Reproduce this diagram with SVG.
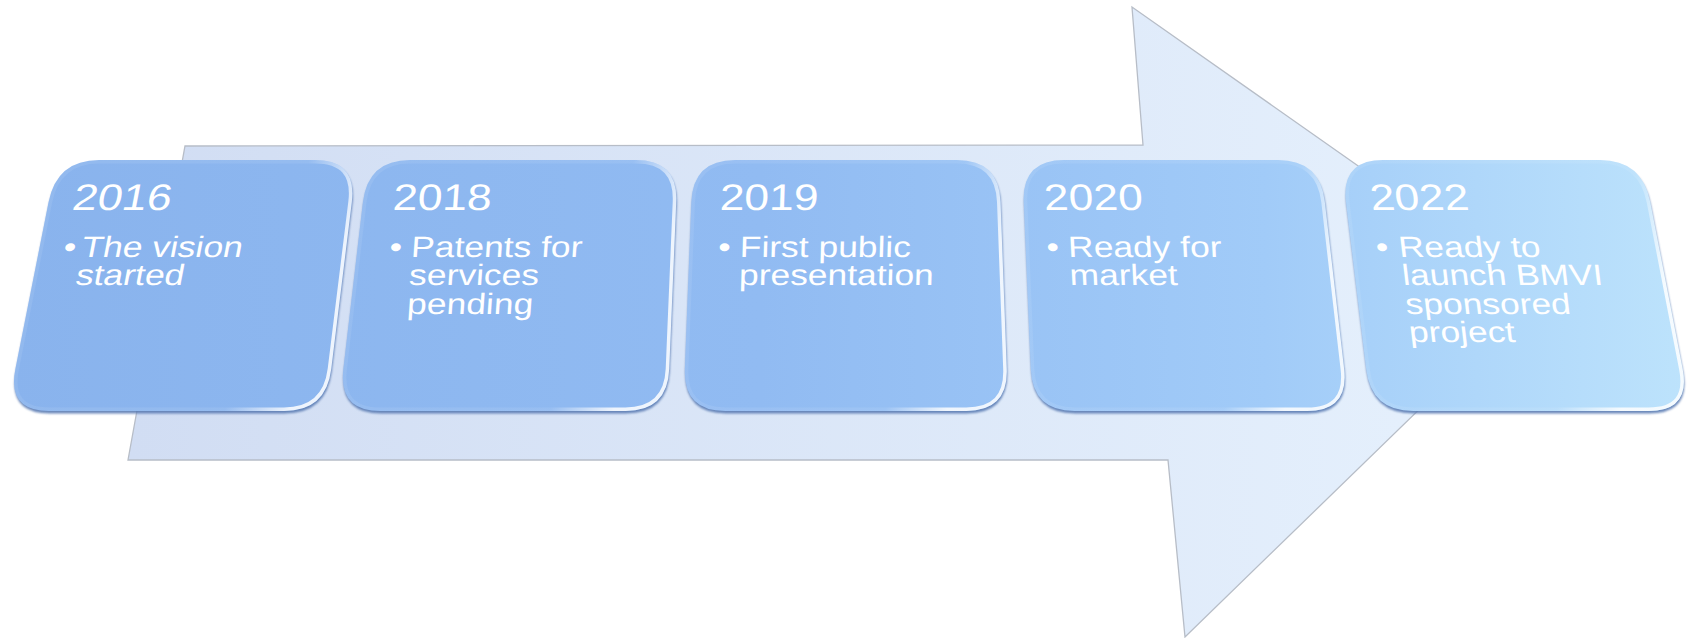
<svg xmlns="http://www.w3.org/2000/svg" xmlns:xlink="http://www.w3.org/1999/xlink" width="1688" height="638" viewBox="0 0 1688 638">
<style>
.yr{font-family:"Liberation Sans",Arial,sans-serif;font-size:37px;fill:#ffffff}
.bt{font-family:"Liberation Sans",Arial,sans-serif;font-size:29.5px;fill:#ffffff}
.shd{fill:#5A7BB3;opacity:0.9}
.box{fill:url(#boxg)}
.rim{fill:none;stroke:url(#rimg);stroke-width:7}
.arrow{fill:url(#arrowg);stroke:#B7BDC7;stroke-width:1.3;stroke-linejoin:miter}
</style>
<defs>
  <linearGradient id="arrowg" gradientUnits="userSpaceOnUse" x1="130" y1="0" x2="1540" y2="0">
    <stop offset="0" stop-color="#D1DDF3"/>
    <stop offset="1" stop-color="#E6F1FD"/>
  </linearGradient>
  <linearGradient id="boxg" gradientUnits="userSpaceOnUse" x1="0" y1="0" x2="1688" y2="0">
    <stop offset="0" stop-color="#89B3ED"/>
    <stop offset="0.45" stop-color="#91BBF2"/>
    <stop offset="0.75" stop-color="#A1CBF8"/>
    <stop offset="1" stop-color="#BDE3FC"/>
  </linearGradient>
  <linearGradient id="rimg" x1="0" y1="0" x2="1" y2="0.25">
    <stop offset="0" stop-color="#ffffff" stop-opacity="0.08"/>
    <stop offset="0.82" stop-color="#ffffff" stop-opacity="0.08"/>
    <stop offset="1" stop-color="#ffffff" stop-opacity="0.85"/>
  </linearGradient>
  <filter id="blur" x="-5%" y="-5%" width="110%" height="115%">
    <feGaussianBlur stdDeviation="0.9"/>
  </filter>
  <path id="p1" d="M 99,160 L 315,160 Q 357,160 351.8,202 L 331.2,369 Q 326,411 284,411 L 49,411 Q 7,411 15.4,369 L 48.6,202 Q 57,160 99,160 Z"/>
  <path id="p2" d="M 410,160 L 636,160 Q 678,160 676.2,202 L 669.2,369 Q 667.4,411 625.4,411 L 380.4,411 Q 338.4,411 343.4,369 L 363,202 Q 368,160 410,160 Z"/>
  <path id="p3" d="M 735,160 L 957,160 Q 999,160 1000.5,202 L 1006.7,369 Q 1008.2,411 966.2,411 L 725.3,411 Q 683.3,411 684.9,369 L 691.4,202 Q 693,160 735,160 Z"/>
  <path id="p4" d="M 1064,160 L 1278,160 Q 1320,160 1324.8,202 L 1344.1,369 Q 1348.9,411 1306.9,411 L 1074.6,411 Q 1032.6,411 1030.8,369 L 1023.8,202 Q 1022,160 1064,160 Z"/>
  <path id="p5" d="M 1383,160 L 1600,160 Q 1642,160 1650.2,202 L 1682.6,369 Q 1690.7,411 1648.7,411 L 1413.2,411 Q 1371.2,411 1366.2,369 L 1346,202 Q 1341,160 1383,160 Z"/>
  <clipPath id="c1"><use xlink:href="#p1"/></clipPath>
  <clipPath id="c2"><use xlink:href="#p2"/></clipPath>
  <clipPath id="c3"><use xlink:href="#p3"/></clipPath>
  <clipPath id="c4"><use xlink:href="#p4"/></clipPath>
  <clipPath id="c5"><use xlink:href="#p5"/></clipPath>
</defs>

<g id="connectors">
  <polygon id="timeline-arrow" class="arrow" points="185,146 1143,145 1132,7 1539,293 1185,637 1168,460 128,460"/>
</g>

<g id="node-2016">
  <use xlink:href="#p1" class="shd" transform="translate(0.5,2.5)" filter="url(#blur)"/>
  <use xlink:href="#p1" class="box"/>
  <use xlink:href="#p1" class="rim" clip-path="url(#c1)"/>
  <g transform="translate(62,257) skewX(-10.8) scale(1.2,1)">
    <text class="yr" x="0" y="-47">2016</text>
    <text class="bt" x="0" y="0">•</text>
    <text class="bt" x="15" y="0">The vision</text>
    <text class="bt" x="15" y="28.5">started</text>
  </g>
</g>

<g id="node-2018">
  <use xlink:href="#p2" class="shd" transform="translate(0.5,2.5)" filter="url(#blur)"/>
  <use xlink:href="#p2" class="box"/>
  <use xlink:href="#p2" class="rim" clip-path="url(#c2)"/>
  <g transform="translate(389,257) skewX(-4) scale(1.2,1)">
    <text class="yr" x="0" y="-47">2018</text>
    <text class="bt" x="0" y="0">•</text>
    <text class="bt" x="18" y="0">Patents for</text>
    <text class="bt" x="18" y="28.5">services</text>
    <text class="bt" x="18" y="57">pending</text>
  </g>
</g>

<g id="node-2019">
  <use xlink:href="#p3" class="shd" transform="translate(0.5,2.5)" filter="url(#blur)"/>
  <use xlink:href="#p3" class="box"/>
  <use xlink:href="#p3" class="rim" clip-path="url(#c3)"/>
  <g transform="translate(718,257) skewX(-1.7) scale(1.2,1)">
    <text class="yr" x="0" y="-47">2019</text>
    <text class="bt" x="0" y="0">•</text>
    <text class="bt" x="18" y="0">First public</text>
    <text class="bt" x="18" y="28.5">presentation</text>
  </g>
</g>

<g id="node-2020">
  <use xlink:href="#p4" class="shd" transform="translate(0.5,2.5)" filter="url(#blur)"/>
  <use xlink:href="#p4" class="box"/>
  <use xlink:href="#p4" class="rim" clip-path="url(#c4)"/>
  <g transform="translate(1047,257) skewX(2.9) scale(1.2,1)">
    <text class="yr" x="0" y="-47">2020</text>
    <text class="bt" x="0" y="0">•</text>
    <text class="bt" x="18" y="0">Ready for</text>
    <text class="bt" x="18" y="28.5">market</text>
  </g>
</g>

<g id="node-2022">
  <use xlink:href="#p5" class="shd" transform="translate(0.5,2.5)" filter="url(#blur)"/>
  <use xlink:href="#p5" class="box"/>
  <use xlink:href="#p5" class="rim" clip-path="url(#c5)"/>
  <g transform="translate(1377,257) skewX(6.8) scale(1.2,1)">
    <text class="yr" x="0" y="-47">2022</text>
    <text class="bt" x="0" y="0">•</text>
    <text class="bt" x="19" y="0">Ready to</text>
    <text class="bt" x="19" y="28.5">launch BMVI</text>
    <text class="bt" x="19" y="57">sponsored</text>
    <text class="bt" x="19" y="85.5">project</text>
  </g>
</g>
</svg>
